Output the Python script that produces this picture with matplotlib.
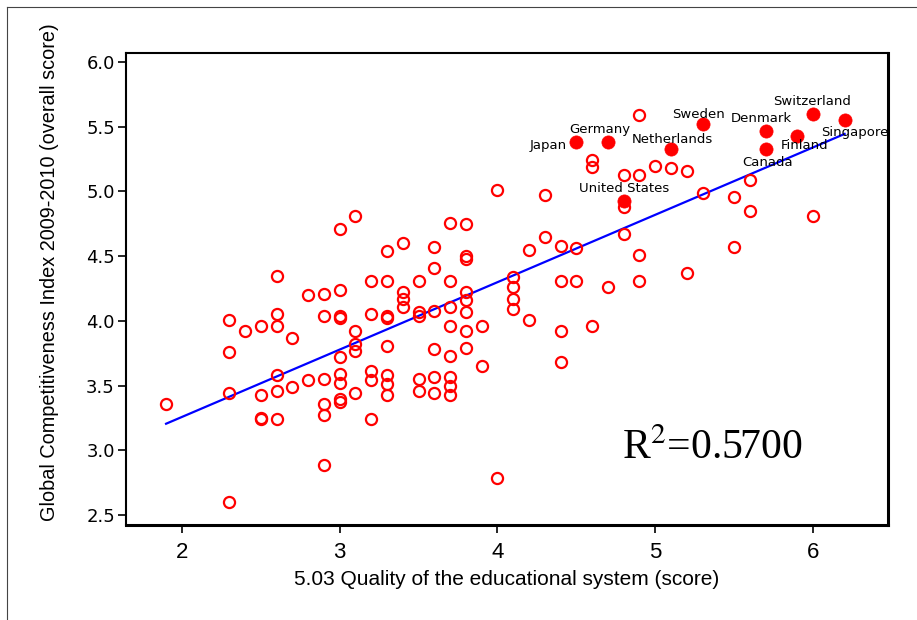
import numpy as np
import matplotlib
matplotlib.use("Agg")
import matplotlib.pyplot as plt
from matplotlib.lines import Line2D

# education quality score (x) vs GCI 2009-2010 score (y), unnamed countries
edu = [1.9,
       2.3, 2.3, 2.3, 2.3,
       2.4,
       2.5, 2.5, 2.5, 2.5,
       2.6, 2.6, 2.6, 2.6, 2.6, 2.6,
       2.7, 2.7,
       2.8, 2.8,
       2.9, 2.9, 2.9, 2.9, 2.9, 2.9,
       3.0, 3.0, 3.0, 3.0, 3.0, 3.0, 3.0, 3.0, 3.0,
       3.1, 3.1, 3.1, 3.1, 3.1,
       3.2, 3.2, 3.2, 3.2, 3.2,
       3.3, 3.3, 3.3, 3.3, 3.3, 3.3, 3.3, 3.3,
       3.4, 3.4, 3.4, 3.4,
       3.5, 3.5, 3.5, 3.5, 3.5,
       3.6, 3.6, 3.6, 3.6, 3.6, 3.6,
       3.7, 3.7, 3.7, 3.7, 3.7, 3.7, 3.7, 3.7,
       3.8, 3.8, 3.8, 3.8, 3.8, 3.8, 3.8, 3.8,
       3.9, 3.9,
       4.0, 4.0,
       4.1, 4.1, 4.1, 4.1,
       4.2, 4.2,
       4.3, 4.3,
       4.4, 4.4, 4.4, 4.4,
       4.5, 4.5,
       4.6, 4.6, 4.6,
       4.7,
       4.8, 4.8, 4.8,
       4.9, 4.9, 4.9, 4.9,
       5.0,
       5.1,
       5.2, 5.2,
       5.3,
       5.5, 5.5,
       5.6, 5.6,
       6.0]
gci = [3.36,
       4.01, 3.76, 3.44, 2.60,
       3.92,
       3.96, 3.43, 3.25, 3.24,
       4.35, 4.05, 3.96, 3.58, 3.46, 3.24,
       3.865, 3.49,
       4.20, 3.54,
       4.21, 4.04, 3.555, 3.36, 3.27, 2.89,
       4.71, 4.24, 4.04, 4.02, 3.72, 3.59, 3.52, 3.40, 3.37,
       4.81, 3.92, 3.82, 3.77, 3.44,
       4.31, 4.05, 3.61, 3.54, 3.24,
       4.54, 4.31, 4.04, 4.02, 3.81, 3.58, 3.51, 3.43,
       4.60, 4.22, 4.17, 4.11,
       4.31, 4.07, 4.04, 3.55, 3.46,
       4.57, 4.41, 4.08, 3.78, 3.57, 3.44,
       4.76, 4.31, 4.11, 3.96, 3.73, 3.57, 3.50, 3.43,
       4.75, 4.50, 4.48, 4.22, 4.16, 4.07, 3.92, 3.79,
       3.96, 3.65,
       5.01, 2.79,
       4.34, 4.26, 4.17, 4.09,
       4.55, 4.01,
       4.97, 4.65,
       4.58, 4.31, 3.92, 3.68,
       4.56, 4.31,
       5.24, 5.19, 3.96,
       4.26,
       5.13, 4.88, 4.67,
       5.59, 5.13, 4.51, 4.31,
       5.20,
       5.18,
       5.16, 4.37,
       4.99,
       4.96, 4.57,
       5.09, 4.85,
       4.81]

# highlighted countries
names = ["Japan", "Germany", "Netherlands", "Sweden", "Denmark",
         "Switzerland", "Singapore", "Finland", "Canada", "United States"]
named_edu = [4.5, 4.7, 5.1, 5.3, 5.7, 6.0, 6.2, 5.9, 5.7, 4.8]
named_gci = [5.38, 5.38, 5.33, 5.52, 5.47, 5.60, 5.55, 5.43, 5.33, 4.93]
# label offsets in points (dx, dy, ha)
label_offsets = {
    "Japan": (-7, -2, "right"),
    "Germany": (-6, 9, "center"),
    "Netherlands": (1, 7, "center"),
    "Sweden": (-3, 7, "center"),
    "Denmark": (-3, 9, "center"),
    "Switzerland": (-1, 9, "center"),
    "Singapore": (7, -9, "center"),
    "Finland": (5, -7, "center"),
    "Canada": (1, -10, "center"),
    "United States": (0, 9, "center"),
}

plt.rcParams["mathtext.fontset"] = "stix"
narrow = ["Liberation Sans", "DejaVu Sans"]

fig = plt.figure(figsize=(9.17, 6.2), dpi=100)
ax = fig.add_axes([0.1374, 0.1532, 0.831, 0.7613])

all_x = np.array(edu + named_edu)
all_y = np.array(gci + named_gci)
slope, icpt = np.polyfit(all_x, all_y, 1)
xs = np.array([all_x.min(), all_x.max()])
ax.plot(xs, icpt + slope * xs, color="#0000ff", lw=1.6, zorder=2)

ax.plot(edu, gci, "o", ms=8, mfc="none", mec="#ff0000", mew=1.6, zorder=3)
ax.plot(named_edu, named_gci, "o", ms=9.5, mfc="#ff0000", mec="#ff0000", mew=0.5, zorder=4)

for n, x, y in zip(names, named_edu, named_gci):
    dx, dy, ha = label_offsets[n]
    ax.annotate(n, (x, y), xytext=(dx, dy), textcoords="offset points",
                ha=ha, va="center", fontsize=9.5, family="DejaVu Sans", zorder=5)

ax.text(0.77, 0.162, r"R$^2$=0.5700", transform=ax.transAxes, ha="center",
        va="center", fontsize=30, family="Liberation Serif")

ax.set_xlim(1.646, 6.475)
ax.set_ylim(2.423, 6.07)
ax.set_xticks([2, 3, 4, 5, 6])
ax.set_yticks([2.5, 3.0, 3.5, 4.0, 4.5, 5.0, 5.5, 6.0])
ax.set_yticklabels(["%.1f" % v for v in ax.get_yticks()])
ax.tick_params(direction="out", length=6, width=1.2, color="black")
ax.tick_params(axis="x", pad=6)
ax.tick_params(axis="y", pad=2)
for lab in ax.get_xticklabels():
    lab.set_family(narrow)
    lab.set_fontsize(16)
for lab in ax.get_yticklabels():
    lab.set_family("DejaVu Sans")
    lab.set_fontsize(13)
for side in ["left", "top"]:
    ax.spines[side].set_linewidth(1.5)
for side in ["right", "bottom"]:
    ax.spines[side].set_linewidth(2.2)

fig.text(0.553, 0.065, "5.03 Quality of the educational system (score)",
         ha="center", va="center", fontsize=15, family=narrow)
fig.text(0.0545, 0.561, "Global Competitiveness Index 2009-2010 (overall score)",
         ha="center", va="center", rotation=90, fontsize=14.3, family=narrow)

# outer frame of the exported chart
fig.add_artist(Line2D([7 / 917, 7 / 917], [0, 1 - 7 / 620], color="#444444", lw=0.8))
fig.add_artist(Line2D([7 / 917, 1], [1 - 7 / 620, 1 - 7 / 620], color="#444444", lw=0.8))

fig.savefig("out.png", dpi=100)
